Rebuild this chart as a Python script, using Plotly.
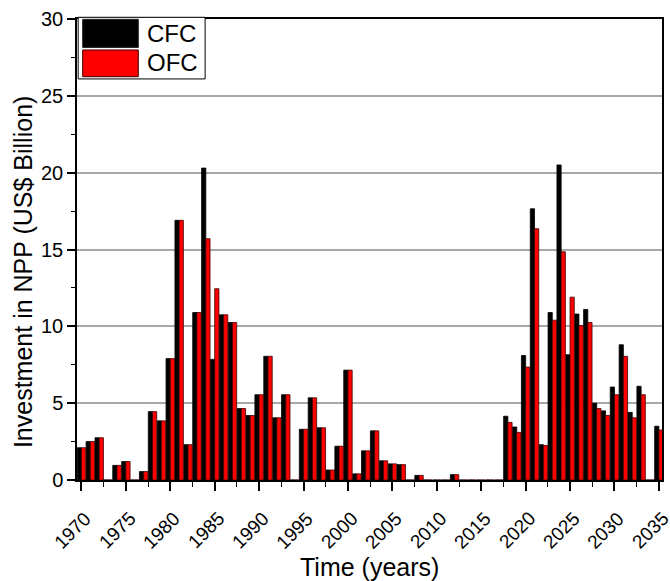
import plotly.graph_objects as go

years = list(range(1970, 2036))
cfc = [2.1, 2.5, 2.75, 0, 0.95, 1.2, 0, 0.55, 4.45, 3.85,
       7.9, 16.9, 2.3, 10.9, 20.3, 7.85, 10.75, 10.25, 4.65, 4.2,
       5.55, 8.05, 4.05, 5.55, 0, 3.3, 5.35, 3.4, 0.65, 2.2,
       7.15, 0.4, 1.9, 3.2, 1.25, 1.05, 1.0, 0, 0.3, 0,
       0, 0, 0.35, 0, 0, 0, 0, 0, 4.15, 3.45,
       8.1, 17.65, 2.3, 10.9, 20.5, 8.15, 10.8, 11.1, 5.0, 4.5,
       6.05, 8.8, 4.4, 6.1, 0, 3.5]
ofc = [2.1, 2.5, 2.75, 0, 0.95, 1.2, 0, 0.55, 4.45, 3.85,
       7.9, 16.9, 2.3, 10.9, 15.7, 12.45, 10.75, 10.25, 4.65, 4.2,
       5.55, 8.05, 4.05, 5.55, 0, 3.3, 5.35, 3.4, 0.65, 2.2,
       7.15, 0.4, 1.9, 3.2, 1.25, 1.05, 1.0, 0, 0.3, 0,
       0, 0, 0.35, 0, 0, 0, 0, 0, 3.75, 3.1,
       7.35, 16.35, 2.25, 10.4, 14.85, 11.9, 10.05, 10.25, 4.65, 4.2,
       5.55, 8.05, 4.05, 5.55, 0, 3.25]
series_names = ["CFC", "OFC"]
x_ticks = list(range(1970, 2040, 5))
y_ticks = [0, 5, 10, 15, 20, 25, 30]
x_title = "Time (years)"
y_title = "Investment in NPP (US$ Billion)"

FONT = "Arial, Liberation Sans, sans-serif"

fig = go.Figure()
fig.add_trace(go.Bar(x=years, y=cfc, name=series_names[0],
                     marker=dict(color="#000000", line=dict(color="#000000", width=0.8))))
fig.add_trace(go.Bar(x=years, y=ofc, name=series_names[1],
                     marker=dict(color="#ff0000", line=dict(color="#3a0000", width=0.8))))

fig.update_layout(
    width=670, height=581,
    margin=dict(l=77, r=8, t=19, b=101, autoexpand=False),
    paper_bgcolor="white", plot_bgcolor="white",
    barmode="group", bargap=0.05, bargroupgap=0,
    showlegend=False,
    font=dict(family=FONT, color="black"),
)

fig.update_xaxes(
    automargin=False,
    range=[1969.5, 2035.35],
    tickmode="array", tickvals=x_ticks, showticklabels=False,
    ticks="outside", ticklen=9, tickwidth=1.5, tickcolor="black",
    minor=dict(dtick=2.5, tick0=1970, ticks="outside", ticklen=5, tickwidth=1.2, tickcolor="black"),
    showline=True, linecolor="black", linewidth=1.5, mirror=True,
    showgrid=False, zeroline=False,
)
fig.update_yaxes(
    automargin=False,
    range=[0, 30],
    tickmode="array", tickvals=y_ticks,
    tickfont=dict(size=20),
    ticks="outside", ticklen=8, tickwidth=1.5, tickcolor="black",
    minor=dict(dtick=2.5, tick0=0, ticks="outside", ticklen=4, tickwidth=1.2, tickcolor="black", showgrid=False),
    showline=True, linecolor="black", linewidth=1.5, mirror=True,
    showgrid=True, gridcolor="#a8a8a8", gridwidth=1.5,
    zeroline=False,
)

# rotated x tick labels
for t in x_ticks:
    fig.add_annotation(x=t, xref="x", y=-0.0347, yref="paper", text=str(t), textangle=-45,
                       xanchor="right", yanchor="top", xshift=16, yshift=-9, showarrow=False,
                       font=dict(size=19))

# axis titles
fig.add_annotation(xref="paper", yref="paper", x=0.4998, y=-0.1887, text=x_title,
                   showarrow=False, xanchor="center", yanchor="middle", font=dict(size=25))
fig.add_annotation(xref="paper", yref="paper", x=-0.0923, y=0.451, text=y_title, textangle=-90,
                   showarrow=False, xanchor="center", yanchor="middle", font=dict(size=25))

# custom legend
fig.add_shape(type="rect", xref="paper", yref="paper", x0=0.002, x1=0.219, y0=0.870, y1=1.0037,
              line=dict(color="black", width=1), fillcolor="white", layer="above")
fig.add_shape(type="rect", xref="paper", yref="paper", x0=0.0097, x1=0.1048, y0=0.9384, y1=0.9993,
              line=dict(color="#222", width=1), fillcolor="#000000", layer="above")
fig.add_shape(type="rect", xref="paper", yref="paper", x0=0.0097, x1=0.1048, y0=0.8748, y1=0.9328,
              line=dict(color="#3a0000", width=1), fillcolor="#ff0000", layer="above")
fig.add_annotation(xref="paper", yref="paper", x=0.116, y=0.9696, text=series_names[0],
                   showarrow=False, xanchor="left", yanchor="middle", font=dict(size=24))
fig.add_annotation(xref="paper", yref="paper", x=0.116, y=0.9046, text=series_names[1],
                   showarrow=False, xanchor="left", yanchor="middle", font=dict(size=24))

fig.write_html("out.html", config={"displayModeBar": False},
               post_script="document.body.style.margin='0';document.body.style.padding='0';")
